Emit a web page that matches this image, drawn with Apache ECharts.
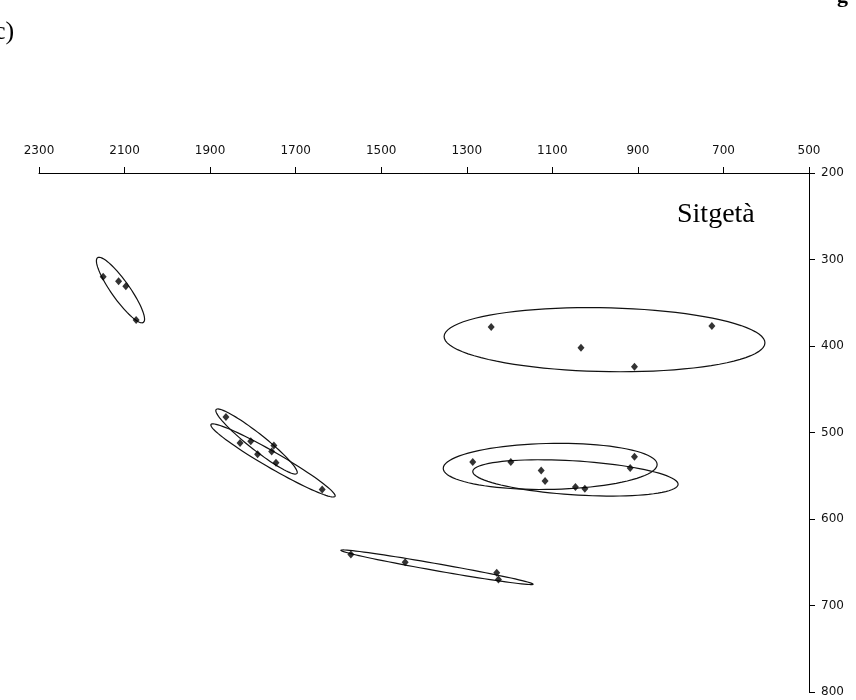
<!DOCTYPE html>
<html>
<head>
<meta charset="utf-8">
<script src="https://cdn.jsdelivr.net/npm/echarts@6/dist/echarts.min.js"></script>
<style>
html,body{margin:0;padding:0;background:#fff;}
#chart{width:856px;height:700px;}
</style>
</head>
<body>
<div id="chart"></div>
<script>
// Axis ranges (F2 on top axis, reversed; F1 on right axis, reversed)
const f2Range = [500, 2300];
const f1Range = [200, 800];

// Vowel token measurements [F2, F1]
const clusterI = [[2150, 320], [2114, 325], [2097, 331], [2073, 370]];
const clusterU = [[1243, 378], [1033, 402], [908, 424], [727, 377]];
const clusterE1 = [[1863, 482], [1805, 510], [1751, 515], [1756, 522]];
const clusterE2 = [[1830, 512], [1789, 525], [1746, 535], [1638, 566]];
const clusterO1 = [[1286, 534], [1197, 534], [1126, 544], [908, 528]];
const clusterO2 = [[1117, 556], [1046, 563], [1024, 565], [918, 541]];
const clusterA = [[1571, 641], [1444, 650], [1230, 662], [1226, 670]];

// Dispersion ellipses: [centerF2, centerF1, majorEndF2, majorEndF1, minorEndF2, minorEndF1]
const ellipses = [
  [2109.5, 335.3, 2056, 372.7, 2092, 329.3],
  [978, 392.7, 603, 396.5, 980, 429.6],
  [1791.5, 510.4, 1697, 547.3, 1780, 503.1],
  [1753, 532.3, 1608, 573.8, 1743.6, 524.3],
  [1105, 539.2, 855, 536.9, 1104.5, 565.8],
  [1046, 552.5, 806, 560, 1048, 572.1],
  [1369.6, 655.8, 1145, 675.4, 1368, 651.8]
];

const chart = echarts.init(document.getElementById('chart'), null, {renderer: 'canvas'});

const pointStyle = {
  type: 'scatter',
  symbol: 'diamond',
  symbolSize: [7, 8],
  itemStyle: {color: '#000'},
  silent: true
};

const axisFont = {fontFamily: 'DejaVu Sans', fontSize: 12, color: '#111',
  formatter: function (v) { return String(v); }};

const option = {
  animation: false,
  backgroundColor: '#fff',
  grid: {left: 39, right: 47, top: 173, bottom: 8, containLabel: false},
  xAxis: {
    type: 'value',
    position: 'top',
    inverse: true,
    min: f2Range[0],
    max: f2Range[1],
    interval: 200,
    axisLine: {show: true, onZero: false, lineStyle: {color: '#000', width: 1}},
    axisTick: {show: true, inside: false, length: 6, lineStyle: {color: '#000', width: 1}},
    axisLabel: Object.assign({margin: 16}, axisFont),
    splitLine: {show: false}
  },
  yAxis: {
    type: 'value',
    position: 'right',
    inverse: true,
    min: f1Range[0],
    max: f1Range[1],
    interval: 100,
    axisLine: {show: true, onZero: false, lineStyle: {color: '#000', width: 1}},
    axisTick: {show: true, inside: false, length: 6, lineStyle: {color: '#000', width: 1}},
    axisLabel: Object.assign({margin: 12}, axisFont),
    splitLine: {show: false}
  },
  series: [
    {
      type: 'custom',
      coordinateSystem: 'cartesian2d',
      silent: true,
      encode: {x: 0, y: 1},
      data: ellipses,
      renderItem: function (params, api) {
        const cx = api.value(0), cy = api.value(1);
        const mx = api.value(2) - cx, my = api.value(3) - cy;
        const nx = api.value(4) - cx, ny = api.value(5) - cy;
        const pts = [];
        const n = 90;
        for (let i = 0; i < n; i++) {
          const t = i / n * Math.PI * 2;
          const c = Math.cos(t), s = Math.sin(t);
          pts.push(api.coord([cx + c * mx + s * nx, cy + c * my + s * ny]));
        }
        return {
          type: 'polygon',
          shape: {points: pts},
          style: {fill: null, stroke: '#111', lineWidth: 1.2}
        };
      },
      z: 1
    },
    Object.assign({name: 'i', data: clusterI, z: 2}, pointStyle),
    Object.assign({name: 'u', data: clusterU, z: 2}, pointStyle),
    Object.assign({name: 'e1', data: clusterE1, z: 2}, pointStyle),
    Object.assign({name: 'e2', data: clusterE2, z: 2}, pointStyle),
    Object.assign({name: 'o1', data: clusterO1, z: 2}, pointStyle),
    Object.assign({name: 'o2', data: clusterO2, z: 2}, pointStyle),
    Object.assign({name: 'a', data: clusterA, z: 2}, pointStyle)
  ],
  graphic: [
    {type: 'text', left: 677, top: 201, style: {text: 'Sitgetà', font: '28px "Liberation Serif"', fill: '#000'}},
    {type: 'text', left: -6, top: 19, style: {text: 'c)', font: '26px "Liberation Serif"', fill: '#000'}},
    {type: 'text', left: 837, top: -15, style: {text: 'g', font: 'bold 22px "Liberation Serif"', fill: '#000'}}
  ]
};

chart.setOption(option);
</script>
</body>
</html>
